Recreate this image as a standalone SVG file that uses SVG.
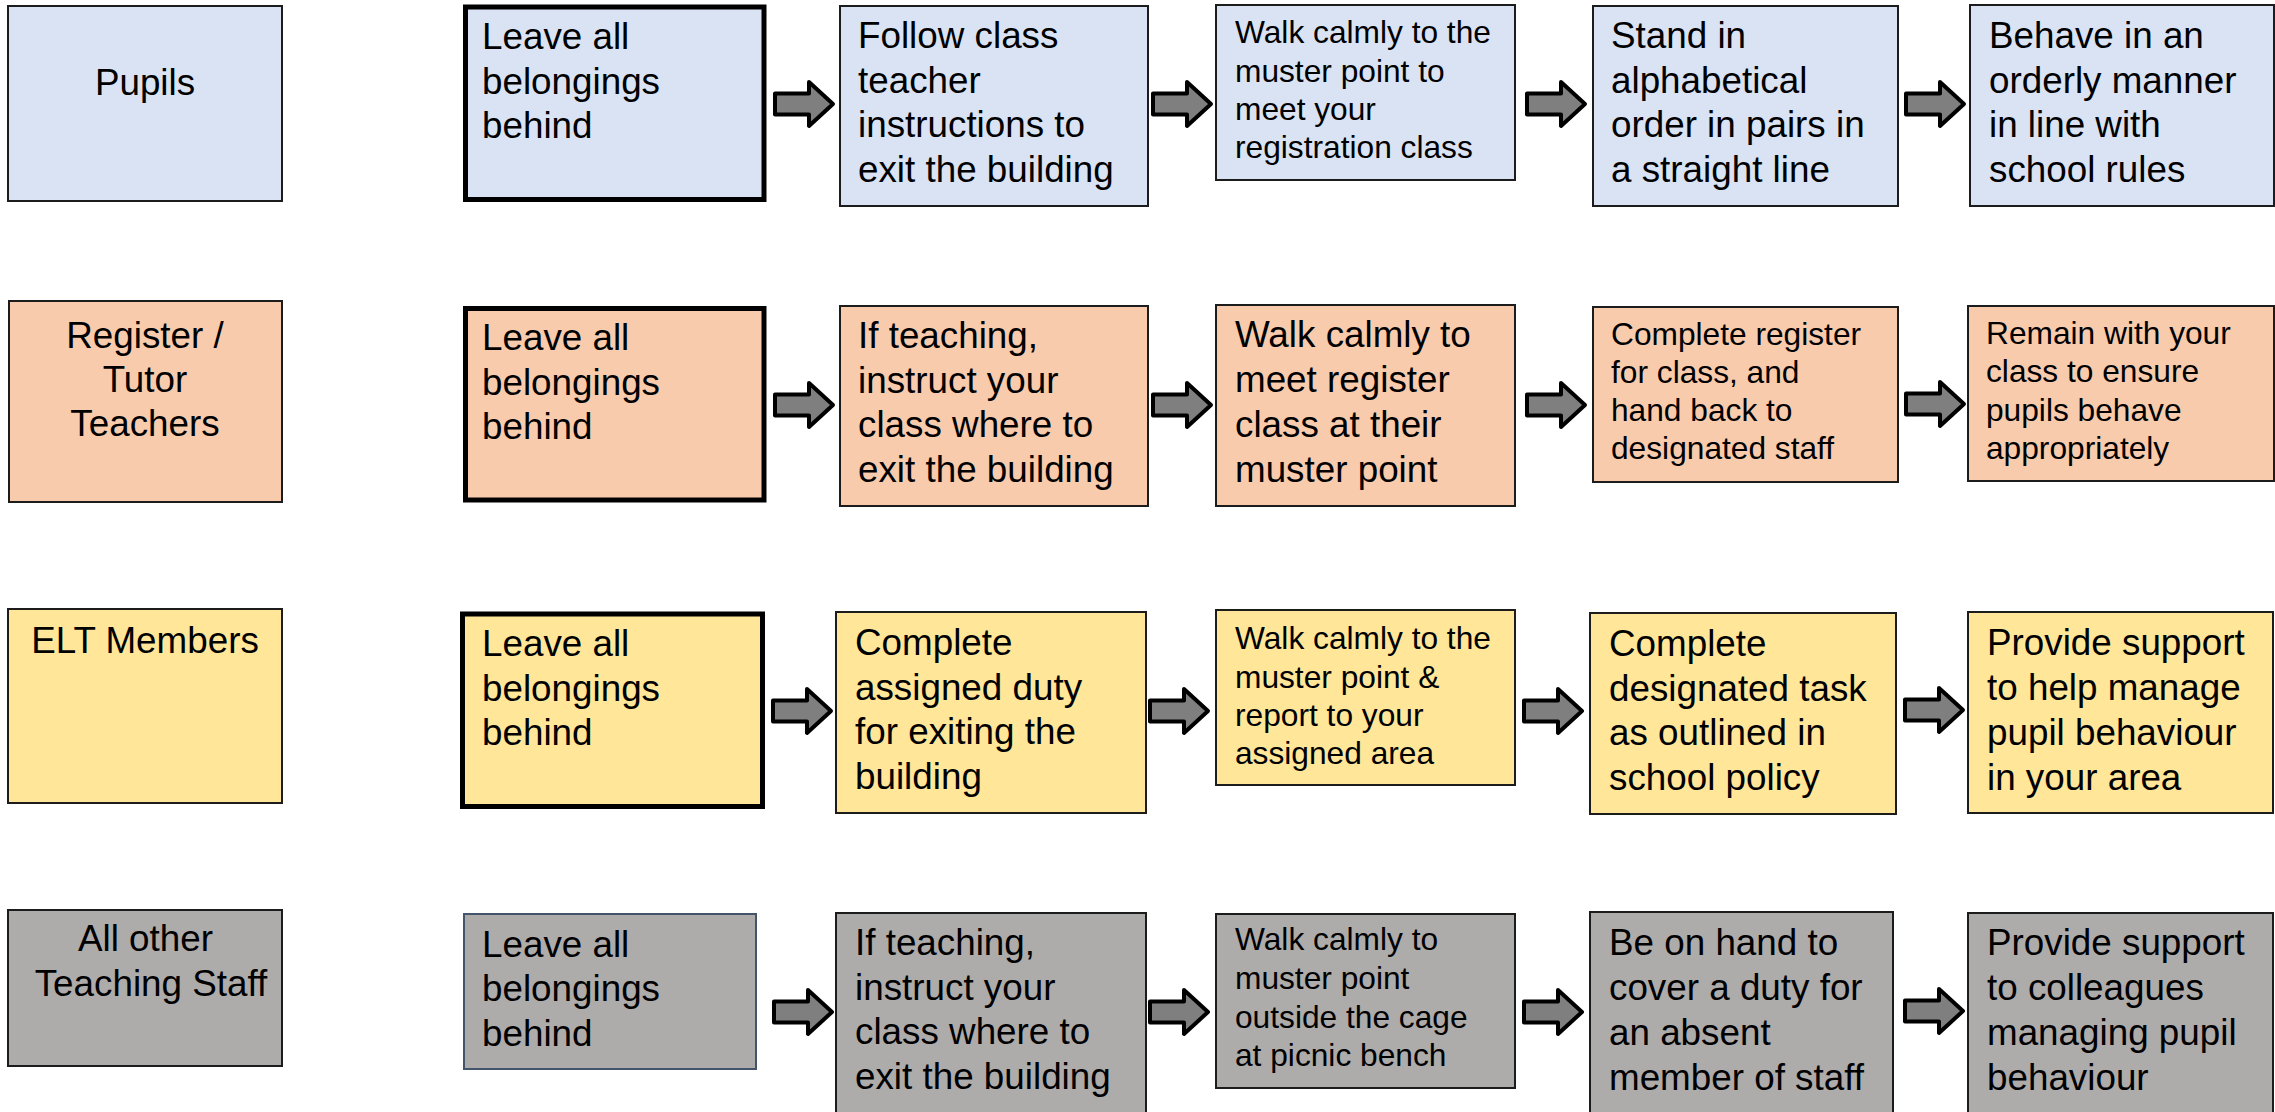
<svg xmlns="http://www.w3.org/2000/svg" width="2275" height="1112" viewBox="0 0 2275 1112">
<style>
.b{stroke:#1c1c1c;stroke-width:2}
.thick{stroke:#000;stroke-width:5}
.blue{fill:#dae3f3}
.orange{fill:#f8cbad}
.yellow{fill:#ffe699}
.gray{fill:#aeabab}
text{font-family:"Liberation Sans",Arial,sans-serif;fill:#000}
.L{font-size:36.8px}
.S{font-size:31.7px}
.c{text-anchor:middle}
.arr{fill:#7f7f7f;stroke:#000;stroke-width:4;stroke-linejoin:round}
</style>
<defs>
<path id="arrow" d="M0,-10.5 H34 V-22 L58,0 L34,22 V10.5 H0 Z"/>
</defs>
<rect width="2275" height="1112" fill="#fff"/>

<!-- Row 1: Pupils -->
<g id="lbl_pupils"><rect class="blue b" x="8" y="6" width="274" height="195"/><text class="L c" x="145" y="95">Pupils</text></g>
<g id="r1c1"><rect class="blue thick" x="465.5" y="7" width="298.5" height="192.5"/><text class="L" x="482"><tspan x="482" y="49">Leave all</tspan><tspan x="482" y="93.5">belongings</tspan><tspan x="482" y="138">behind</tspan></text></g>
<g id="r1c2"><rect class="blue b" x="840" y="6" width="308" height="200"/><text class="L"><tspan x="858" y="48">Follow class</tspan><tspan x="858" y="92.5">teacher</tspan><tspan x="858" y="137">instructions to</tspan><tspan x="858" y="181.5">exit the building</tspan></text></g>
<g id="r1c3"><rect class="blue b" x="1216" y="5" width="299" height="175"/><text class="S"><tspan x="1235" y="43">Walk calmly to the</tspan><tspan x="1235" y="81.5">muster point to</tspan><tspan x="1235" y="120">meet your</tspan><tspan x="1235" y="158">registration class</tspan></text></g>
<g id="r1c4"><rect class="blue b" x="1593" y="6" width="305" height="200"/><text class="L"><tspan x="1611" y="48">Stand in</tspan><tspan x="1611" y="92.5">alphabetical</tspan><tspan x="1611" y="137">order in pairs in</tspan><tspan x="1611" y="181.5">a straight line</tspan></text></g>
<g id="r1c5"><rect class="blue b" x="1970" y="5" width="304" height="201"/><text class="L"><tspan x="1989" y="48">Behave in an</tspan><tspan x="1989" y="92.5">orderly manner</tspan><tspan x="1989" y="137">in line with</tspan><tspan x="1989" y="181.5">school rules</tspan></text></g>

<!-- Row 2: Register / Tutor Teachers -->
<g id="lbl_register"><rect class="orange b" x="9" y="301" width="273" height="201"/><text class="L c"><tspan x="145" y="348">Register /</tspan><tspan x="145" y="392">Tutor</tspan><tspan x="145" y="436">Teachers</tspan></text></g>
<g id="r2c1"><rect class="orange thick" x="465.5" y="308.5" width="298.5" height="191.5"/><text class="L"><tspan x="482" y="350">Leave all</tspan><tspan x="482" y="394.5">belongings</tspan><tspan x="482" y="439">behind</tspan></text></g>
<g id="r2c2"><rect class="orange b" x="840" y="306" width="308" height="200"/><text class="L"><tspan x="858" y="348">If teaching,</tspan><tspan x="858" y="392.5">instruct your</tspan><tspan x="858" y="437">class where to</tspan><tspan x="858" y="481.5">exit the building</tspan></text></g>
<g id="r2c3"><rect class="orange b" x="1216" y="305" width="299" height="201"/><text class="L"><tspan x="1235" y="347">Walk calmly to</tspan><tspan x="1235" y="392">meet register</tspan><tspan x="1235" y="436.5">class at their</tspan><tspan x="1235" y="481.5">muster point</tspan></text></g>
<g id="r2c4"><rect class="orange b" x="1593" y="307" width="305" height="175"/><text class="S"><tspan x="1611" y="344.5">Complete register</tspan><tspan x="1611" y="383">for class, and</tspan><tspan x="1611" y="421">hand back to</tspan><tspan x="1611" y="459">designated staff</tspan></text></g>
<g id="r2c5"><rect class="orange b" x="1968" y="306" width="306" height="175"/><text class="S"><tspan x="1986" y="343.5">Remain with your</tspan><tspan x="1986" y="382">class to ensure</tspan><tspan x="1986" y="420.5">pupils behave</tspan><tspan x="1986" y="459">appropriately</tspan></text></g>

<!-- Row 3: ELT Members -->
<g id="lbl_elt"><rect class="yellow b" x="8" y="609" width="274" height="194"/><text class="L c" x="145" y="652.5">ELT Members</text></g>
<g id="r3c1"><rect class="yellow thick" x="462.5" y="614" width="300" height="192.5"/><text class="L"><tspan x="482" y="656">Leave all</tspan><tspan x="482" y="700.5">belongings</tspan><tspan x="482" y="745">behind</tspan></text></g>
<g id="r3c2"><rect class="yellow b" x="836" y="612" width="310" height="201"/><text class="L"><tspan x="855" y="655">Complete</tspan><tspan x="855" y="699.5">assigned duty</tspan><tspan x="855" y="744">for exiting the</tspan><tspan x="855" y="788.5">building</tspan></text></g>
<g id="r3c3"><rect class="yellow b" x="1216" y="610" width="299" height="175"/><text class="S"><tspan x="1235" y="649">Walk calmly to the</tspan><tspan x="1235" y="687.5">muster point &amp;</tspan><tspan x="1235" y="726">report to your</tspan><tspan x="1235" y="764">assigned area</tspan></text></g>
<g id="r3c4"><rect class="yellow b" x="1590" y="613" width="306" height="201"/><text class="L"><tspan x="1609" y="656">Complete</tspan><tspan x="1609" y="700.5">designated task</tspan><tspan x="1609" y="745">as outlined in</tspan><tspan x="1609" y="789.5">school policy</tspan></text></g>
<g id="r3c5"><rect class="yellow b" x="1968" y="612" width="305" height="201"/><text class="L"><tspan x="1987" y="655">Provide support</tspan><tspan x="1987" y="699.5">to help manage</tspan><tspan x="1987" y="744.5">pupil behaviour</tspan><tspan x="1987" y="789.5">in your area</tspan></text></g>

<!-- Row 4: All other Teaching Staff -->
<g id="lbl_other"><rect class="gray b" x="8" y="910" width="274" height="156"/><text class="L c"><tspan x="145.5" y="951">All other</tspan><tspan x="151" y="995.5">Teaching Staff</tspan></text></g>
<g id="r4c1"><rect class="gray" stroke="#44546a" stroke-width="2" x="464" y="914" width="292" height="155"/><text class="L"><tspan x="482" y="957">Leave all</tspan><tspan x="482" y="1001">belongings</tspan><tspan x="482" y="1045.5">behind</tspan></text></g>
<g id="r4c2"><rect class="gray b" x="836" y="913" width="310" height="210"/><text class="L"><tspan x="855" y="955">If teaching,</tspan><tspan x="855" y="999.5">instruct your</tspan><tspan x="855" y="1044">class where to</tspan><tspan x="855" y="1088.5">exit the building</tspan></text></g>
<g id="r4c3"><rect class="gray b" x="1216" y="914" width="299" height="174"/><text class="S"><tspan x="1235" y="949.5">Walk calmly to</tspan><tspan x="1235" y="988.5">muster point</tspan><tspan x="1235" y="1027.5">outside the cage</tspan><tspan x="1235" y="1066">at picnic bench</tspan></text></g>
<g id="r4c4"><rect class="gray b" x="1590" y="912" width="303" height="210"/><text class="L"><tspan x="1609" y="955">Be on hand to</tspan><tspan x="1609" y="999.5">cover a duty for</tspan><tspan x="1609" y="1044.5">an absent</tspan><tspan x="1609" y="1089.5">member of staff</tspan></text></g>
<g id="r4c5"><rect class="gray b" x="1968" y="913" width="305" height="210"/><text class="L"><tspan x="1987" y="955">Provide support</tspan><tspan x="1987" y="999.5">to colleagues</tspan><tspan x="1987" y="1044.5">managing pupil</tspan><tspan x="1987" y="1089.5">behaviour</tspan></text></g>

<!-- Connectors -->
<g id="connectors">
<use href="#arrow" class="arr" transform="translate(775,104)"/>
<use href="#arrow" class="arr" transform="translate(1153,104)"/>
<use href="#arrow" class="arr" transform="translate(1527,104)"/>
<use href="#arrow" class="arr" transform="translate(1906,104)"/>
<use href="#arrow" class="arr" transform="translate(775,405)"/>
<use href="#arrow" class="arr" transform="translate(1153,405)"/>
<use href="#arrow" class="arr" transform="translate(1527,405)"/>
<use href="#arrow" class="arr" transform="translate(1906,404)"/>
<use href="#arrow" class="arr" transform="translate(773,711)"/>
<use href="#arrow" class="arr" transform="translate(1150,711)"/>
<use href="#arrow" class="arr" transform="translate(1524,711)"/>
<use href="#arrow" class="arr" transform="translate(1905,710)"/>
<use href="#arrow" class="arr" transform="translate(774,1012)"/>
<use href="#arrow" class="arr" transform="translate(1150,1012)"/>
<use href="#arrow" class="arr" transform="translate(1524,1012)"/>
<use href="#arrow" class="arr" transform="translate(1905,1011)"/>
</g>
</svg>
